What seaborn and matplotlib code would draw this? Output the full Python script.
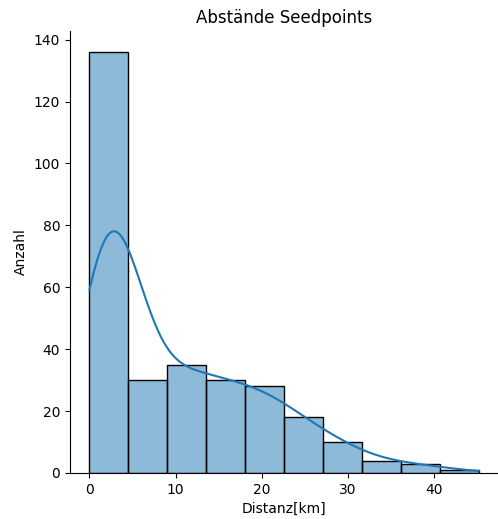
import matplotlib
matplotlib.use("Agg")
import matplotlib.pyplot as plt
import seaborn as sns
import numpy as np
import pandas as pd

# Histogram of seedpoint distances: bin centres (km) and counts per bin
bin_edges = [0.0, 4.52, 9.04, 13.56, 18.08, 22.6, 27.12, 31.64, 36.16, 40.68, 45.2]
counts = [136, 30, 35, 30, 28, 18, 10, 4, 3, 1]
centers = [(a + b) / 2 for a, b in zip(bin_edges[:-1], bin_edges[1:])]

df = pd.DataFrame({"Distanz": centers, "Anzahl": counts})

fig = plt.figure(figsize=(4.98, 5.19), dpi=100)
ax = fig.add_axes([70 / 498, 46 / 519, 428 / 498, 442 / 519])

sns.histplot(
    data=df, x="Distanz", weights="Anzahl", bins=bin_edges, kde=True,
    kde_kws=dict(bw_adjust=0.42, cut=3, clip=(0, 45.2)),
    line_kws=dict(linewidth=1.5), ax=ax,
)
sns.despine(ax=ax)

ax.set_title("Abstände Seedpoints")
ax.set_xlabel("Distanz[km]")
ax.set_ylabel("Anzahl")
ax.set_xticks([0, 10, 20, 30, 40])
ax.set_yticks([0, 20, 40, 60, 80, 100, 120, 140])

fig.savefig("out.png", dpi=100)
